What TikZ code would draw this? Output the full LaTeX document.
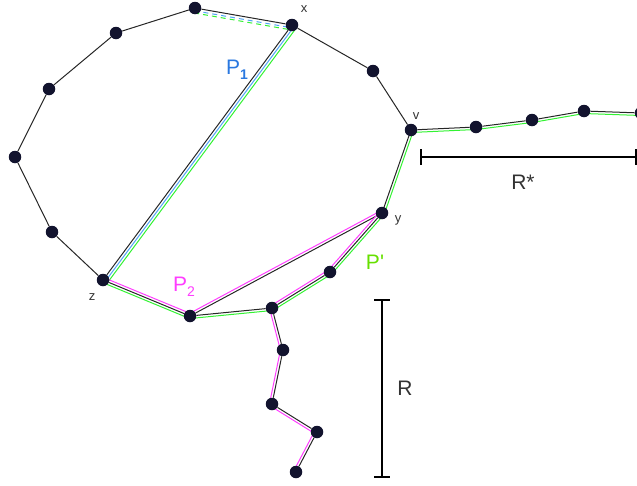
\documentclass[tikz,border=0pt]{standalone}
\usepackage{fontspec}
\setmainfont{Liberation Sans}
\usetikzlibrary{calc,backgrounds}
\definecolor{dotc}{HTML}{12132E}
\definecolor{pblue}{HTML}{4FA3F5}
\definecolor{pbluet}{HTML}{2A78E0}
\definecolor{pmag}{HTML}{FF3DFF}
\definecolor{pgreen}{HTML}{33F233}
\definecolor{pgreent}{HTML}{66E000}
\definecolor{lblc}{HTML}{333333}
\newcommand{\offl}[5]{\draw[#5] ($(#1.center)!#3!#4:(#2.center)$) -- ($(#2.center)!#3!-#4:(#1.center)$);}
\newcommand{\subl}[1]{\raisebox{-0.45ex}{\fontsize{14}{14}\selectfont #1}}
\begin{document}
\begin{tikzpicture}[x=1pt,y=-1pt,
  dot/.style={circle,fill=dotc,inner sep=0pt,minimum size=12.5pt},
  edge/.style={draw=black!85,line width=1pt},
  bl/.style={draw=pblue,line width=1pt},
  gr/.style={draw=pgreen,line width=1pt},
  mg/.style={draw=pmag,line width=1pt},
  dsh/.style={dash pattern=on 5pt off 4pt},
  bar/.style={draw=black,line width=2.4pt},
  small/.style={font=\fontsize{13}{13}\selectfont,text=lblc},
  big/.style={font=\fontsize{21}{21}\selectfont}]
\useasboundingbox (0,0) rectangle (637,485);
% cycle nodes
\node[dot] (x) at (292,25) {};
\node[dot] (a1) at (373,71) {};
\node[dot] (v) at (411,130) {};
\node[dot] (y) at (382,213) {};
\node[dot] (n) at (330,272) {};
\node[dot] (m) at (272,308) {};
\node[dot] (p) at (190,316) {};
\node[dot] (z) at (103,280) {};
\node[dot] (c1) at (52,232) {};
\node[dot] (c2) at (15,157) {};
\node[dot] (c3) at (49,89) {};
\node[dot] (c4) at (116,33) {};
\node[dot] (c5) at (195,8) {};
% tail R*
\node[dot] (t1) at (476,127) {};
\node[dot] (t2) at (532,120) {};
\node[dot] (t3) at (584,111) {};
\node[dot] (t4) at (641,113) {};
% tail R
\node[dot] (r1) at (283,350) {};
\node[dot] (r2) at (272,404) {};
\node[dot] (r3) at (317,432) {};
\node[dot] (r4) at (296,472) {};
\begin{scope}[on background layer]
% black edges
\draw[edge] (x) -- (a1) -- (v) -- (y) -- (n) -- (m) -- (p) -- (z) -- (c1) -- (c2) -- (c3) -- (c4) -- (c5) -- (x);
\draw[edge] (x) -- (z);
\draw[edge] (y) -- (p);
\draw[edge] (v) -- (t1) -- (t2) -- (t3) -- (t4);
\draw[edge] (m) -- (r1) -- (r2) -- (r3) -- (r4);
% P1 blue and green along chord
\offl{x}{z}{2.6pt}{90}{bl}
\offl{x}{z}{5.2pt}{90}{gr}
\offl{c5}{x}{2.8pt}{-90}{bl,dsh}
\offl{c5}{x}{5pt}{-90}{gr,dsh}
% P' green
\offl{v}{t1}{2.5pt}{-90}{gr}
\offl{t1}{t2}{2.5pt}{-90}{gr}
\offl{t2}{t3}{2.5pt}{-90}{gr}
\offl{t3}{t4}{2.5pt}{-90}{gr}
\offl{v}{y}{2.5pt}{90}{gr}
\offl{y}{n}{2.5pt}{90}{gr}
\offl{n}{m}{2.5pt}{90}{gr}
\offl{m}{p}{2.5pt}{90}{gr}
\offl{p}{z}{2.5pt}{90}{gr}
% P2 magenta
\offl{p}{z}{2.5pt}{-90}{mg}
\offl{y}{p}{2.5pt}{-90}{mg}
\offl{y}{n}{2.5pt}{-90}{mg}
\offl{n}{m}{2.5pt}{-90}{mg}
\offl{m}{r1}{2.5pt}{-90}{mg}
\offl{r1}{r2}{2.5pt}{-90}{mg}
\offl{r2}{r3}{2.5pt}{-90}{mg}
\offl{r3}{r4}{2.5pt}{-90}{mg}
\end{scope}
% vertex labels
\node[small] (lx) at (304,9) {x};
\node[small] (lv) at (416,116) {v};
\node[small] (ly) at (398,220) {y};
\node[small] (lz) at (92,297) {z};
% path labels
\node[big,text=pbluet] (lp1) at (237,70) {P\subl{\textbf{1}}};
\node[big,text=pmag] (lp2) at (184,287) {P\subl{2}};
\node[big,text=pgreent] (lpp) at (375,262) {P\textquotesingle};
% R bar
\coordinate (rt) at (382,300);
\coordinate (rb) at (382,477);
\draw[bar] (rt) -- (rb);
\draw[bar] ($(rt)+(-8,0)$) -- ($(rt)+(8,0)$);
\draw[bar] ($(rb)+(-8,0)$) -- ($(rb)+(8,0)$);
\node[big,text=lblc] (lr) at (405,388) {R};
% R* bar
\coordinate (sl) at (421,157);
\coordinate (sr) at (636,157);
\draw[bar] (sl) -- (sr);
\draw[bar] ($(sl)+(0,-8)$) -- ($(sl)+(0,8)$);
\draw[bar] ($(sr)+(0,-8)$) -- ($(sr)+(0,8)$);
\node[big,text=lblc] (lrs) at (523,182) {R*};
\end{tikzpicture}
\end{document}
